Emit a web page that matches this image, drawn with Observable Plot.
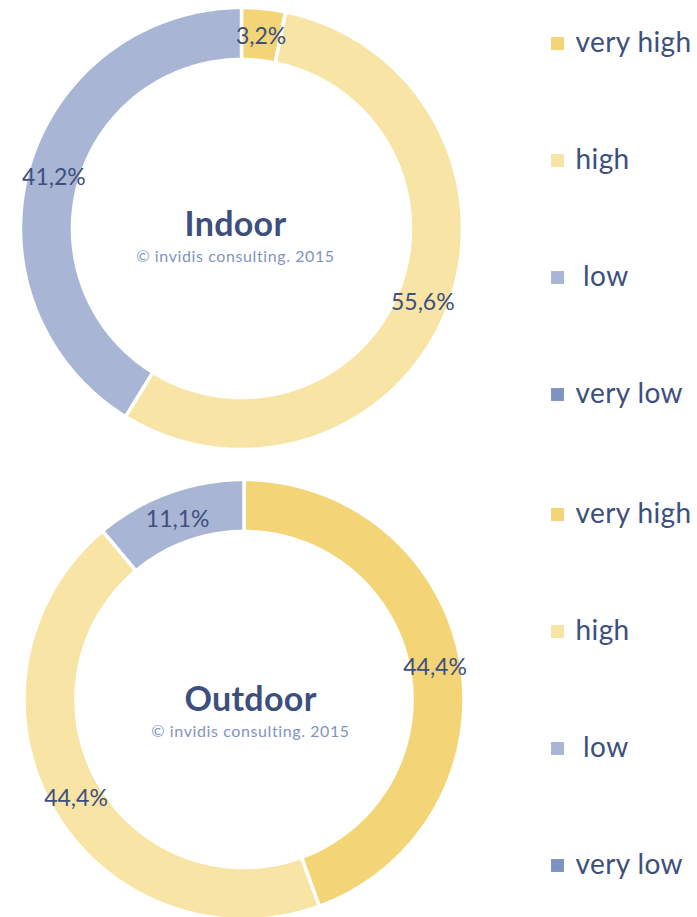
<!DOCTYPE html>
<html><head><meta charset="utf-8">
<script src="https://cdn.jsdelivr.net/npm/d3@7"></script>
<script src="https://cdn.jsdelivr.net/npm/@observablehq/plot@0.6"></script>
<style>
body{margin:0;background:#fff;}
#chart{width:697px;height:917px;overflow:hidden;}
</style></head><body><div id="chart"></div>
<script>
const categories = ["very high", "high", "low", "very low"];
const legendLabels = ["very high", "high", " low", "very low"];
const colors = ["#F3D577", "#F8E4A4", "#A9B5D4", "#7F93C3"];
const indoorValues = [3.2, 55.6, 41.2, 0];
const outdoorValues = [44.4, 44.4, 11.1, 0];
const titles = ["Indoor", "Outdoor"];
const credit = "© invidis consulting. 2015";

const FONT = "Lato, 'Open Sans', sans-serif";
const navy = "#3D4F7C";
const donuts = [
  {title: titles[0], values: indoorValues, cx: 241, cy: 228, ro: 221, ri: 169, tx: 235, ty: 225, legendTop: 43},
  {title: titles[1], values: outdoorValues, cx: 243.5, cy: 699, ro: 220, ri: 168, tx: 250, ty: 700, legendTop: 514}
];
const legendStep = 117;

const marks = [];
const labels = [];
const centers = [];
const legendRows = [];
for (const dn of donuts) {
  const data = categories.map((c, i) => ({cat: c, value: dn.values[i], color: colors[i], label: legendLabels[i]}));
  const arcs = d3.pie().sort(null).value(d => d.value)(data);
  for (const a of arcs) {
    if (a.data.value <= 0) continue;
    const pts = [];
    const n = Math.max(4, Math.ceil((a.endAngle - a.startAngle) * 60));
    for (let k = 0; k <= n; k++) {
      const t = a.startAngle + (a.endAngle - a.startAngle) * k / n;
      pts.push({x: dn.cx + dn.ro * Math.sin(t), y: dn.cy - dn.ro * Math.cos(t)});
    }
    for (let k = n; k >= 0; k--) {
      const t = a.startAngle + (a.endAngle - a.startAngle) * k / n;
      pts.push({x: dn.cx + dn.ri * Math.sin(t), y: dn.cy - dn.ri * Math.cos(t)});
    }
    marks.push(Plot.line(pts, {x: "x", y: "y", curve: "linear-closed", fill: a.data.color, stroke: "white", strokeWidth: 3.5}));
    const mid = (a.startAngle + a.endAngle) / 2, rm = (dn.ro + dn.ri) / 2;
    labels.push({x: dn.cx + rm * Math.sin(mid), y: dn.cy - rm * Math.cos(mid) + 2, text: a.data.value.toFixed(1).replace(".", ",") + "%"});
  }
  centers.push({x: dn.tx, y: dn.ty, title: dn.title, y2: dn.ty + 31});
  data.forEach((d, i) => legendRows.push({y: dn.legendTop + i * legendStep, color: d.color, label: d.label}));
}

const plot = Plot.plot({
  width: 697, height: 917,
  marginTop: 0, marginRight: 0, marginBottom: 0, marginLeft: 0,
  x: {type: "identity", axis: null},
  y: {type: "identity", axis: null},
  style: {fontFamily: FONT, background: "white"},
  marks: [
    ...marks,
    Plot.text(labels, {x: "x", y: "y", text: "text", fontSize: 23, fill: navy}),
    Plot.text(centers, {x: "x", y: "y", text: "title", fontSize: 34, fontWeight: "bold", fill: navy, className: "ttl"}),
    Plot.text(centers, {x: "x", y: "y2", text: () => credit, fontSize: 16, fill: "#7F93C3", className: "sub"}),
    Plot.dot(legendRows, {x: 557, y: "y", symbol: "square", r: 7.3, fill: "color", stroke: null}),
    Plot.text(legendRows, {x: 575, y: "y", text: "label", textAnchor: "start", fontSize: 28, fill: navy, className: "leg"})
  ]
});
plot.querySelectorAll("text").forEach(t => t.setAttribute("xml:space", "preserve"));
plot.querySelectorAll(".ttl text").forEach(t => t.style.letterSpacing = "0.3px");
plot.querySelectorAll(".sub text").forEach(t => t.style.letterSpacing = "0.6px");
plot.querySelectorAll(".leg text").forEach(t => t.style.letterSpacing = "0.4px");
plot.style.whiteSpace = "pre";
document.getElementById("chart").appendChild(plot);
</script></body></html>
